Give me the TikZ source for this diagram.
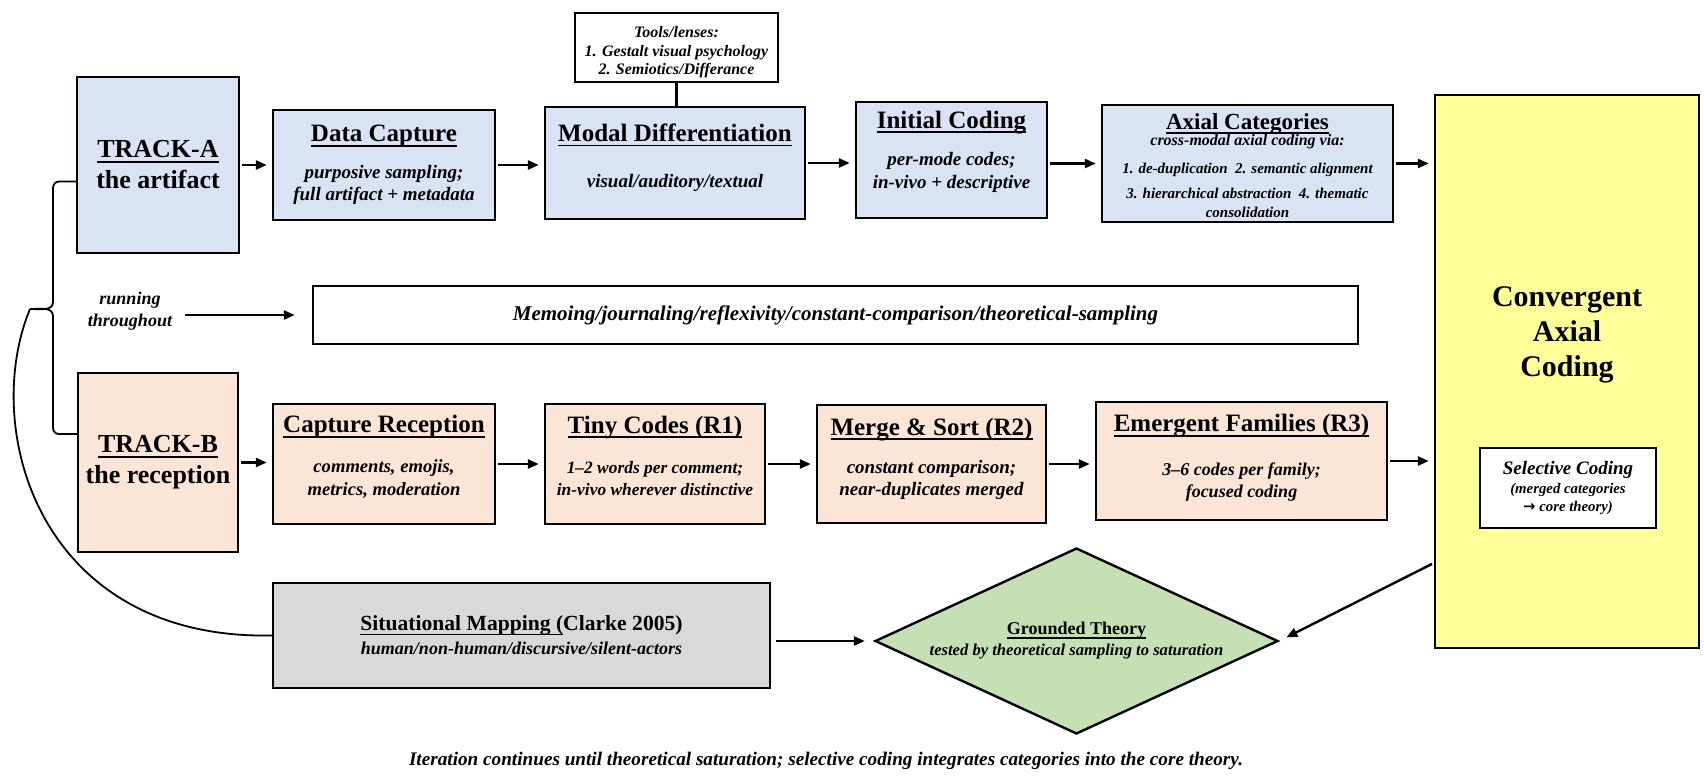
\documentclass[tikz,border=0pt]{standalone}
\usepackage{fontspec}
\setmainfont{Liberation Serif}
\newfontfamily\arrowfont{DejaVu Sans}
\usetikzlibrary{shapes.geometric,arrows.meta}

\definecolor{trackablue}{HTML}{DAE3F3}
\definecolor{trackbpeach}{HTML}{FBE5D6}
\definecolor{situgray}{HTML}{D9D9D9}
\definecolor{theorygreen}{HTML}{C5E0B4}
\definecolor{convyellow}{HTML}{FFFF99}

\newsavebox{\ulinebox}
\newcommand{\wordul}[1]{\sbox{\ulinebox}{#1}\rlap{\rule[-0.2em]{\wd\ulinebox}{0.07em}}\usebox{\ulinebox}}
\newcommand{\boxtitle}[2][12.5]{{\upshape\fontsize{#1}{#1}\selectfont\wordul{#2}}}

\begin{document}
\begin{tikzpicture}[x=0.5pt,y=-0.5pt,
    box/.style={draw, line width=1.2pt, align=center, inner sep=2pt,
        font=\bfseries\itshape\fontsize{9.5}{11}\selectfont},
    abox/.style={box, fill=trackablue},
    bbox/.style={box, fill=trackbpeach},
    trackbox/.style={box, font=\bfseries\fontsize{13}{15.5}\selectfont},
    flow/.style={line width=1.2pt, -{Triangle[length=5.5pt,width=4.5pt]},
        shorten <=1pt, shorten >=2.5pt},
    bracket/.style={line width=0.9pt}]
    \useasboundingbox (0,0) rectangle (1704,782);

    % track A row
    \node[trackbox, fill=trackablue, minimum width=81pt, minimum height=88pt] (tracka) at (158,165) {\wordul{TRACK-A}\\the artifact};
    \node[abox, minimum width=111pt, minimum height=55pt] (dcap) at (384,165) {\boxtitle{Data Capture}\\[7.5pt]purposive sampling;\\full artifact + metadata};
    \node[abox, minimum width=130pt, minimum height=56pt, text depth=7.5pt] (modal) at (675,163) {\boxtitle{Modal Differentiation}\\[12pt]visual/auditory/textual};
    \node[box, fill=white, minimum width=101.5pt, minimum height=34.5pt, font=\bfseries\itshape\fontsize{8}{9.25}\selectfont] (tools) at (676.5,47.5) {\rule{0pt}{10.5pt}Tools/lenses:\\1. Gestalt visual psychology\\2. Semiotics/Differance};
    \node[abox, minimum width=95.5pt, minimum height=58pt, text depth=10.5pt, font=\bfseries\itshape\fontsize{9.5}{11.5}\selectfont] (init) at (951.5,160) {\boxtitle{Initial Coding}\\[7pt]per-mode codes;\\in-vivo + descriptive};
    \node[abox, minimum width=145.5pt, minimum height=58.5pt, font=\bfseries\itshape\fontsize{7.5}{10}\selectfont] (axial) at (1247.5,163.5) {\rule{0pt}{10pt}\boxtitle[11.5]{Axial Categories}\\[-2pt]{\fontsize{8}{10}\selectfont cross-modal axial coding via:}\\[4pt]1. de-duplication\ \ 2. semantic alignment\\[2.5pt]3. hierarchical abstraction\ \ 4. thematic\\[-0.5pt]consolidation};

    % convergent column
    \node[box, fill=convyellow, minimum width=132pt, minimum height=276.5pt] (conv) at (1567,371.5) {};
    \node[font=\bfseries\fontsize{15}{17.5}\selectfont, align=center] (convtext) at (1567,335) {Convergent\\Axial\\Coding};
    \node[box, fill=white, minimum width=88pt, minimum height=40pt, font=\bfseries\itshape\fontsize{7.4}{9}\selectfont] (selective) at (1568,488) {{\fontsize{9.5}{11}\selectfont Selective Coding}\\[0.5pt](merged categories\\{\arrowfont\upshape →} core theory)};

    % memo band
    \node[box, fill=white, minimum width=522.5pt, minimum height=29pt, font=\bfseries\itshape\fontsize{10.5}{12}\selectfont] (memo) at (835.5,315) {Memoing/journaling/reflexivity/constant-comparison/theoretical-sampling};
    \node[align=center, font=\bfseries\itshape\fontsize{9}{11}\selectfont] (running) at (130,311) {running\\throughout};

    % track B row
    \node[trackbox, fill=trackbpeach, minimum width=80pt, minimum height=89.5pt] (trackb) at (158,462.5) {\wordul{TRACK-B}\\the reception};
    \node[bbox, minimum width=111pt, minimum height=60pt, text depth=8.5pt, font=\bfseries\itshape\fontsize{9.3}{11.5}\selectfont] (caprec) at (384,464) {\boxtitle{Capture Reception}\\[8.5pt]comments, emojis,\\metrics, moderation};
    \node[bbox, minimum width=110pt, minimum height=60pt, text depth=8.5pt, font=\bfseries\itshape\fontsize{8.7}{11}\selectfont] (tiny) at (655,464) {\boxtitle{Tiny Codes (R1)}\\[9pt]1--2 words per comment;\\in-vivo wherever distinctive};
    \node[bbox, minimum width=114.5pt, minimum height=59pt, text depth=7.5pt] (merge) at (931.5,464) {\boxtitle{Merge \& Sort (R2)}\\[8pt]constant comparison;\\near-duplicates merged};
    \node[bbox, minimum width=145.5pt, minimum height=59pt, text depth=5pt, font=\bfseries\itshape\fontsize{9}{11}\selectfont] (families) at (1241.5,461) {\boxtitle{Emergent Families (R3)}\\[11pt]3--6 codes per family;\\focused coding};

    % bottom row
    \node[box, fill=situgray, minimum width=248.5pt, minimum height=52.5pt, font=\bfseries\itshape\fontsize{9}{12}\selectfont] (situ) at (521.5,635.5) {{\upshape\fontsize{10.8}{13}\selectfont\wordul{Situational Mapping (}Clarke 2005)}\\human/non-human/discursive/silent-actors};
    \node[draw, diamond, aspect=2.17, fill=theorygreen, line width=1.2pt, inner sep=1pt, minimum width=201.5pt, minimum height=93pt, align=center, font=\bfseries\itshape\fontsize{8.3}{10.5}\selectfont] (theory) at (1076.5,641) {\boxtitle[9]{Grounded Theory}\\tested by theoretical sampling to saturation};
    \node[font=\bfseries\itshape\fontsize{9.6}{11}\selectfont] (caption) at (826,761) {Iteration continues until theoretical saturation; selective coding integrates categories into the core theory.};

    % connectors
    \draw[line width=1.2pt] (tools.south) -- (tools.south |- modal.north);
    \draw[flow] (tracka.east |- dcap.west) -- (dcap.west);
    \draw[flow] (dcap.east) -- (dcap.east -| modal.west);
    \draw[flow] (modal.east) -- (modal.east -| init.west);
    \draw[flow] (axial.west -| init.east) -- (axial.west);
    \draw[flow] (axial.east) -- (axial.east -| conv.west);
    \draw[flow, shorten <=3pt, shorten >=8.5pt] (running.east |- memo.west) -- (memo.west);
    \draw[flow] (trackb.east) -- (trackb.east -| caprec.west);
    \draw[flow] (caprec.east) -- (caprec.east -| tiny.west);
    \draw[flow] (tiny.east) -- (tiny.east -| merge.west);
    \draw[flow] (merge.east) -- (merge.east -| families.west);
    \draw[flow] (families.east) -- (families.east -| conv.west);
    \draw[flow, shorten <=2.5pt, shorten >=4.5pt] (situ.east |- theory.west) -- (theory.west);
    \draw[flow, shorten >=4pt] ([yshift=-95.75pt]conv.west) -- (theory.east);

    % bracket joining both tracks
    \coordinate (bracetop) at ([yshift=-8.25pt]tracka.west);
    \coordinate (bracebot) at ([yshift=14.25pt]trackb.west);
    \coordinate (bracetip) at (30,309);
    \draw[bracket] (bracetop) -- (59,181.5) to[out=180,in=90] (53,188) -- (53,302) to[out=-90,in=0] (bracetip) to[out=0,in=90] (53,316) -- (53,428) to[out=-90,in=180] (59,434) -- (bracebot);
    \draw[bracket] (bracetip) .. controls (-20,430) and (40,640) .. (situ.west);

\end{tikzpicture}
\end{document}
